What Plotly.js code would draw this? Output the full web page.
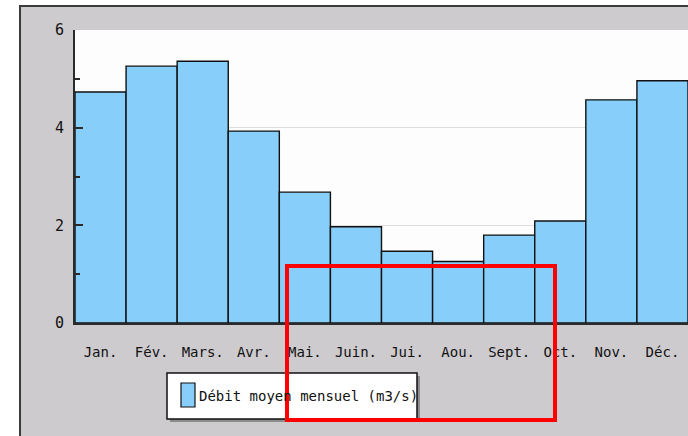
<!DOCTYPE html>
<html>
<head>
<meta charset="utf-8">
<script src="https://cdn.plot.ly/plotly-3.0.1.min.js"></script>
<style>
  html, body { margin: 0; padding: 0; background: #ffffff; width: 688px; height: 436px; overflow: hidden; }
  #frame { position: absolute; left: 19px; top: 5px; width: 667px; height: 429px;
           border-left: 2px solid #3a3a3a; border-top: 2px solid #3a3a3a; background: #cdcbce; }
  #chart { width: 667px; height: 429px; }
</style>
</head>
<body>
<div id="frame"><div id="chart"></div></div>
<script>
const months = ["Jan.", "Fév.", "Mars.", "Avr.", "Mai.", "Juin.", "Jui.", "Aou.", "Sept.", "Oct.", "Nov.", "Déc."];
const debit = [4.73, 5.26, 5.36, 3.93, 2.68, 1.97, 1.47, 1.26, 1.80, 2.09, 4.57, 4.96];
const seriesName = "Débit moyen mensuel (m3/s)";
const yTicks = [0, 2, 4, 6];

const FONT = "DejaVu Sans Mono, Liberation Mono, monospace";
const barColor = "#87cefa";

const trace = {
  type: "bar",
  x: months,
  y: debit,
  name: seriesName,
  showlegend: false,
  marker: { color: barColor, line: { color: "#111111", width: 1.4 } },
  hoverinfo: "none"
};

// plot area in page px: x 75..688, y 30..323 ; paper conversion helpers
const PX0 = 75, PW = 613, PY0 = 323, PH = 293;
const xp = X => (X - PX0) / PW;
const yp = Y => (PY0 - Y) / PH;

const layout = {
  width: 667, height: 429,
  margin: { l: 54, r: 0, t: 23, b: 113, pad: 0 },
  paper_bgcolor: "rgba(0,0,0,0)",
  plot_bgcolor: "#fcfdfc",
  bargap: 0,
  showlegend: false,
  font: { family: FONT, size: 14, color: "#111111" },
  xaxis: {
    type: "category",
    range: [-0.5, 11.5],
    showgrid: false,
    zeroline: false,
    showline: true, linecolor: "#2a2a2a", linewidth: 2,
    ticks: "",
    ticklabelstandoff: 15,
    tickfont: { family: FONT, size: 14, color: "#111111" },
    fixedrange: true
  },
  yaxis: {
    range: [0, 6],
    tickvals: yTicks,
    ticktext: yTicks.map(String),
    showgrid: true, gridcolor: "#dedede", gridwidth: 1,
    zeroline: false,
    showline: true, linecolor: "#2a2a2a", linewidth: 2,
    ticks: "inside", ticklen: 8, tickwidth: 2, tickcolor: "#2a2a2a",
    minor: { tickvals: [1, 3, 5], ticks: "inside", ticklen: 5, tickwidth: 2, tickcolor: "#2a2a2a", showgrid: false },
    ticklabelstandoff: 6,
    tickfont: { family: FONT, size: 15, color: "#111111" },
    fixedrange: true
  },
  shapes: [
    // legend shadow
    { type: "rect", xref: "paper", yref: "paper", x0: xp(170), x1: xp(420), y0: yp(376), y1: yp(422),
      fillcolor: "#8c8c8c", line: { width: 0 } },
    // legend box
    { type: "rect", xref: "paper", yref: "paper", x0: xp(167), x1: xp(417), y0: yp(373), y1: yp(419),
      fillcolor: "#ffffff", line: { color: "#111111", width: 1.5 } },
    // legend swatch
    { type: "rect", xref: "paper", yref: "paper", x0: xp(181), x1: xp(195), y0: yp(383), y1: yp(407),
      fillcolor: barColor, line: { color: "#111111", width: 1.2 } },
    // red highlight rectangle
    { type: "rect", xref: "paper", yref: "paper", x0: xp(287), x1: xp(555), y0: yp(266), y1: yp(420),
      fillcolor: "rgba(0,0,0,0)", line: { color: "#ff0000", width: 4 } }
  ],
  annotations: [
    { xref: "paper", yref: "paper", x: xp(197), y: yp(396), xanchor: "left", yanchor: "middle",
      text: seriesName, showarrow: false, font: { family: FONT, size: 14, color: "#111111" } }
  ]
};

Plotly.newPlot("chart", [trace], layout, { displayModeBar: false, staticPlot: true });
</script>
</body>
</html>
